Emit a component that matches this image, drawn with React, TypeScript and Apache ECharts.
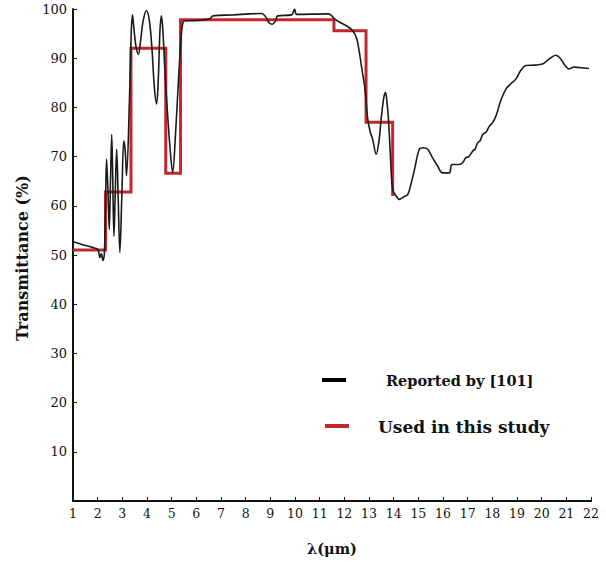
import React, { useEffect, useRef } from "react";
import * as echarts from "echarts";

// Reported curve (wavelength µm, transmittance %)
const blackX = [
  1.0, 1.4, 1.81, 2.01, 2.09, 2.15, 2.21, 2.27, 2.32, 2.36, 2.41, 2.47, 2.52, 2.57, 2.61, 2.66, 2.71, 2.77, 2.83, 2.9,
  2.98, 3.06, 3.12, 3.17, 3.29, 3.36, 3.41, 3.47, 3.55, 3.65, 3.74, 3.84, 3.98, 4.1, 4.2, 4.3, 4.39, 4.46, 4.52, 4.58,
  4.64, 4.72, 4.83, 4.93, 5.04, 5.15, 5.27, 5.38, 5.46, 5.57, 5.86, 6.54, 6.68, 7.5, 8.16, 8.65, 8.81, 8.95, 9.08, 9.2,
  9.3, 9.86, 9.94, 9.98, 10.02, 10.06, 11.32, 11.45, 11.6, 11.85, 12.08, 12.34, 12.5, 12.61, 12.72, 12.82, 12.95, 13.05,
  13.15, 13.29, 13.4, 13.5, 13.6, 13.67, 13.73, 13.79, 13.87, 13.96, 14.1, 14.23, 14.4, 14.57, 14.7, 14.85, 15.04, 15.2,
  15.38, 15.55, 15.78, 15.98, 16.26, 16.33, 16.39, 16.66, 16.8, 16.93, 17.05, 17.2, 17.3, 17.4, 17.5, 17.61, 17.75,
  17.88, 18.0, 18.15, 18.35, 18.55, 18.75, 18.96, 19.15, 19.36, 19.7, 20.03, 20.3, 20.57, 20.75, 20.95, 21.11, 21.3,
  21.52, 21.92,
];
const blackY = [
  52.7, 52.1, 51.5, 51.1, 49.5, 50.3, 48.9, 50.1, 61, 69.5, 64, 55.2, 65, 74.5, 66, 53.8, 62, 71.5, 62, 50.5,
  62, 73.2, 71, 66.1, 81.7, 95, 98.8, 96, 92.5, 90.8, 93.5, 97.5, 99.7, 97.5, 92, 84, 80.7, 86, 95, 98.6,
  96, 88, 79, 72, 66.8, 74, 85, 94, 97.3, 97.6, 97.6, 98.0, 98.6, 98.8, 99.0, 99.1, 98.4, 97.2, 96.9, 97.5,
  98.6, 98.8, 99.5, 100, 99.3, 98.9, 99.0, 98.8, 98.0, 97.2, 96.6, 95.6, 94, 91.2, 87.5, 84.4, 77.6, 75,
  73.5, 70.5, 73, 78, 82, 83, 81, 77.6, 70, 63.3, 62, 61.3, 61.8, 62.3, 64.4, 67.5, 71.5, 71.8,
  71.5, 70, 68.1, 66.7, 66.7, 68.2, 68.4, 68.4, 68.8, 69.8, 70, 71.1, 71.5, 72.8, 73.2, 74.5, 75,
  76.2, 76.8, 78.3, 81.5, 83.7, 84.8, 85.8, 87.5, 88.5, 88.6, 88.8, 89.8, 90.6, 90, 88.5, 87.8, 88.2,
  88.1, 87.9,
];

// Step approximation used in this study (level holds from x[i] to x[i+1])
const redX = [1, 2.32, 3.35, 4.76, 5.36, 11.58, 12.88, 13.96];
const redY = [51, 62.8, 92, 66.6, 97.8, 95.6, 77, 62];

const seriesNames = ["Reported by [101]", "Used in this study"];
const yTickValues = [10, 20, 30, 40, 50, 60, 70, 80, 90, 100];

const SERIF = "'DejaVu Serif', 'Liberation Serif', serif";
const RED = "#c1272d";
const BLACK = "#1a1a1a";

export default function App() {
  const ref = useRef<HTMLDivElement>(null);

  useEffect(() => {
    if (!ref.current) return;
    const chart = echarts.init(ref.current, undefined, { renderer: "svg" });
    chart.setOption({
      animation: false,
      backgroundColor: "#ffffff",
      grid: { left: 73, right: 15, top: 9, bottom: 61, containLabel: false },
      xAxis: [
        {
          type: "value",
          min: 1,
          max: 22,
          interval: 1,
          position: "bottom",
          axisLine: { show: true, onZero: false, lineStyle: { color: "#111", width: 2 } },
          axisTick: { show: true, inside: true, length: 4, lineStyle: { color: "#111", width: 1 } },
          axisLabel: { color: "#111", fontFamily: SERIF, fontSize: 12.5, margin: 6 },
          splitLine: { show: false },
          name: "λ(μm)",
          nameLocation: "middle",
          nameGap: 40,
          nameTextStyle: { color: "#111", fontFamily: SERIF, fontSize: 14.5, fontWeight: "bold" },
        },
        {
          type: "value",
          min: 1,
          max: 22,
          position: "top",
          axisLine: { show: true, lineStyle: { color: "#111", width: 1.5 } },
          axisTick: { show: false },
          axisLabel: { show: false },
          splitLine: { show: false },
        },
      ],
      yAxis: {
        type: "value",
        min: 0,
        max: 100,
        interval: 10,
        axisLine: { show: true, lineStyle: { color: "#111", width: 2 } },
        axisTick: { show: true, inside: true, length: 4, lineStyle: { color: "#111", width: 1 } },
        axisLabel: {
          color: "#111",
          fontFamily: SERIF,
          fontSize: 13,
          margin: 6,
          formatter: (v: number) => (yTickValues.includes(v) ? String(v) : ""),
        },
        splitLine: { show: false },
      },
      series: [
        {
          name: seriesNames[1],
          type: "line",
          xAxisIndex: 0,
          step: "end",
          symbol: "none",
          data: redX.map((x, i) => [x, redY[i]]),
          lineStyle: { color: RED, width: 3, join: "miter" },
          z: 2,
        },
        {
          name: seriesNames[0],
          type: "line",
          xAxisIndex: 0,
          symbol: "none",
          smooth: 0.35,
          data: blackX.map((x, i) => [x, blackY[i]]),
          lineStyle: { color: BLACK, width: 1.6 },
          z: 3,
        },
      ],
      graphic: [
        {
          type: "text",
          x: 22,
          y: 258,
          rotation: Math.PI / 2,
          style: {
            text: "Transmittance (%)",
            fill: "#111",
            font: `bold 16px ${SERIF}`,
            textAlign: "center",
            textVerticalAlign: "middle",
          },
        },
        {
          type: "line",
          shape: { x1: 322, y1: 380, x2: 346, y2: 380 },
          style: { stroke: "#000", lineWidth: 4 },
        },
        {
          type: "text",
          x: 386,
          y: 380,
          style: {
            text: seriesNames[0],
            fill: "#111",
            font: `bold 14.5px ${SERIF}`,
            textAlign: "left",
            textVerticalAlign: "middle",
          },
        },
        {
          type: "line",
          shape: { x1: 325, y1: 426, x2: 349, y2: 426 },
          style: { stroke: RED, lineWidth: 4 },
        },
        {
          type: "text",
          x: 378,
          y: 427,
          style: {
            text: seriesNames[1],
            fill: "#111",
            font: `bold 17px ${SERIF}`,
            textAlign: "left",
            textVerticalAlign: "middle",
          },
        },
      ],
    });
    return () => chart.dispose();
  }, []);

  return (
    <div
      ref={ref}
      style={{ position: "fixed", left: 0, top: 0, width: 606, height: 562, background: "#fff" }}
    />
  );
}
